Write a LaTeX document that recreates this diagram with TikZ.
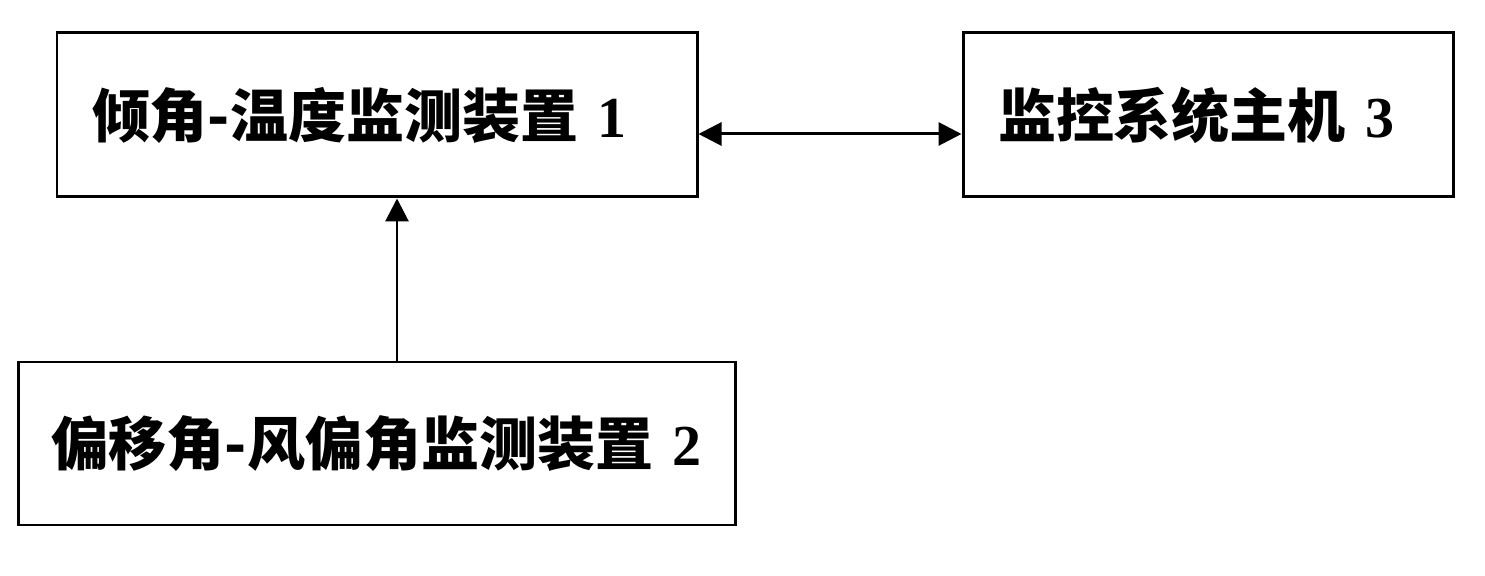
\documentclass[tikz,border=0pt]{standalone}
\usepackage{fontspec}
\usepackage{tikz}
\usetikzlibrary{arrows.meta}
\newfontfamily\cjk{Noto Sans CJK SC}
\newfontfamily\lat{Liberation Serif}
\newcommand{\num}[1]{{\lat\bfseries #1}}
\tikzstyle{unitbox}=[draw,%
                     rectangle,%
                     line width    = 1.7pt,%
                     minimum height= 3.28cm,%
                     inner xsep    = 0.7cm,%
                     align         = left,%
                     font          = \cjk\bfseries\fontsize{33}{39}\selectfont]
\tikzstyle{link}=[line width=1.7pt,{Triangle[length=4.6mm,width=4.6mm]}-{Triangle[length=4.6mm,width=4.6mm]}]
\tikzstyle{feed}=[line width=1.7pt,-{Triangle[length=4.6mm,width=4.6mm]}]

\begin{document}
\begin{tikzpicture}
            \useasboundingbox (0,0) rectangle (29.7,11.52);
            \node[unitbox,text width=11.4cm] (a) at (7.54,9.22) {倾角-温度监测装置 \num{1}};
            \node[unitbox,text width=8.4cm][right of=a,node distance=16.62cm] (c) {监控系统主机 \num{3}};
            \node[unitbox,text width=13.04cm,inner xsep=0.65cm,minimum height=3.26cm][below of=a,node distance=6.57cm] (b) {偏移角-风偏角监测装置 \num{2}};
            \draw [link] ([yshift=-0.38cm]a.east) -- ([yshift=-0.38cm]c.west);
            \draw [feed] ([xshift=0.4cm]b.north) -- ([xshift=0.4cm]a.south);
  \end{tikzpicture}
\end{document}
